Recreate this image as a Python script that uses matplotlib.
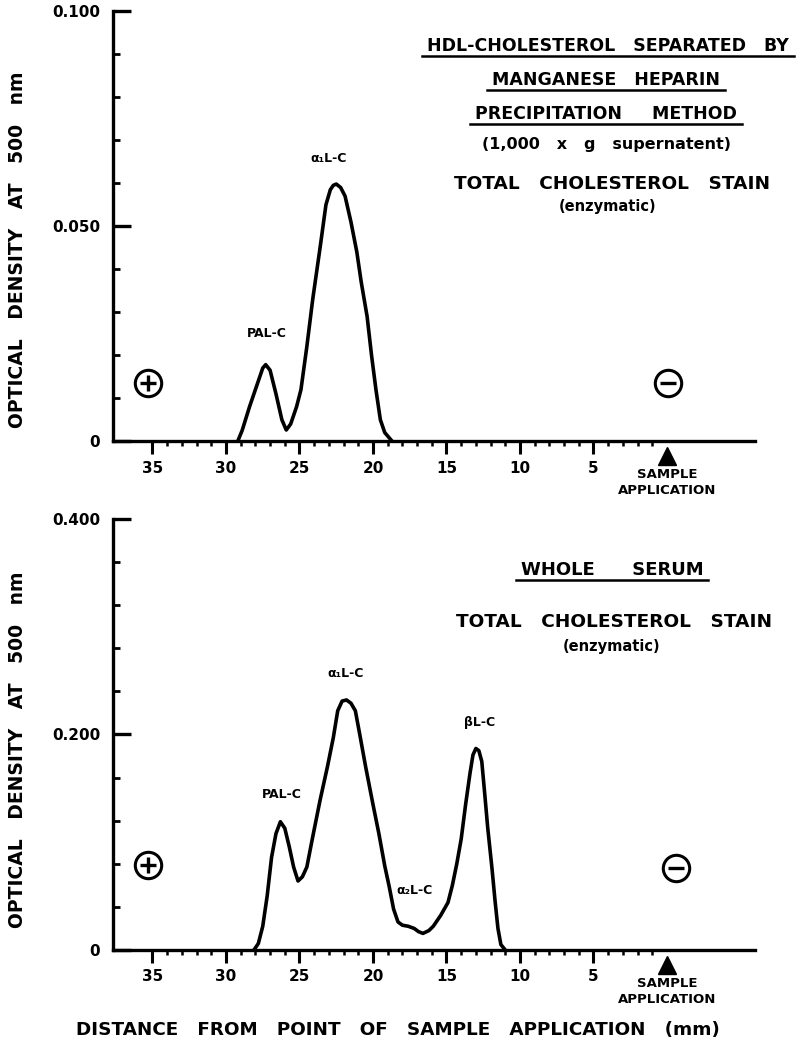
import matplotlib.pyplot as plt
from matplotlib.ticker import FixedLocator
from matplotlib.lines import Line2D
import matplotlib.transforms as mtransforms

plt.rcParams['font.family'] = ['DejaVu Sans']
plt.rcParams['font.weight'] = 'bold'

# densitometer scan, HDL fraction (Mn-heparin supernatant)
hdl_mm = [29.2, 28.9, 28.4, 27.9, 27.5, 27.3, 27.0, 26.6, 26.2, 25.9, 25.6, 25.2,
          24.9, 24.5, 24.1, 23.6, 23.2, 22.9, 22.7, 22.5, 22.2, 21.9, 21.5, 21.1,
          20.8, 20.4, 20.1, 19.8, 19.5, 19.2, 18.7]
hdl_od = [0.0, 0.0025, 0.008, 0.013, 0.017, 0.0178, 0.0165, 0.011, 0.005, 0.0026,
          0.004, 0.008, 0.012, 0.022, 0.033, 0.045, 0.055, 0.0585, 0.0595, 0.0598,
          0.059, 0.057, 0.051, 0.044, 0.037, 0.029, 0.020, 0.012, 0.005, 0.002, 0.0]

# densitometer scan, whole serum
serum_mm = [28.1, 27.8, 27.5, 27.2, 26.9, 26.6, 26.3, 26.0, 25.7, 25.4, 25.1, 24.8,
            24.5, 24.1, 23.6, 23.1, 22.7, 22.4, 22.1, 21.8, 21.5, 21.2, 20.9, 20.5,
            20.0, 19.6, 19.2, 18.9, 18.6, 18.3, 18.0, 17.6, 17.2, 16.9, 16.6, 16.2,
            15.9, 15.4, 14.9, 14.6, 14.3, 14.0, 13.7, 13.4, 13.2, 13.0, 12.8, 12.6,
            12.4, 12.2, 11.9, 11.7, 11.5, 11.3, 11.0]
serum_od = [0.0, 0.006, 0.022, 0.05, 0.086, 0.108, 0.119, 0.113, 0.096, 0.077, 0.064,
            0.068, 0.077, 0.105, 0.139, 0.17, 0.197, 0.222, 0.231, 0.232, 0.229, 0.222,
            0.2, 0.17, 0.135, 0.108, 0.078, 0.059, 0.038, 0.026, 0.023, 0.022, 0.020,
            0.017, 0.0154, 0.018, 0.022, 0.032, 0.044, 0.06, 0.08, 0.103, 0.135, 0.164,
            0.181, 0.187, 0.185, 0.175, 0.145, 0.114, 0.075, 0.046, 0.02, 0.005, 0.0]

major_mm = [35, 30, 25, 20, 15, 10, 5]
major_labels = ['35', '30', '25', '20', '15', '10', '5']
minor_mm = [m for m in range(1, 35) if m % 5 != 0]

top_yticks = [0, 0.050, 0.100]
top_ylabels = ['0', '0.050', '0.100']
top_yminor = [0.01, 0.02, 0.03, 0.04, 0.06, 0.07, 0.08, 0.09]
bot_yticks = [0, 0.200, 0.400]
bot_ylabels = ['0', '0.200', '0.400']
bot_yminor = [0.04, 0.08, 0.12, 0.16, 0.24, 0.28, 0.32, 0.36]

top_peaks = [('PAL-C', 27.25, 0.0251), ('α\u2081L-C', 23.0, 0.0658)]
bot_peaks = [('PAL-C', 26.2, 0.144), ('α\u2081L-C', 21.9, 0.257),
             ('βL-C', 12.75, 0.211), ('α\u2082L-C', 17.2, 0.0556)]

fig = plt.figure(figsize=(8, 10.58), dpi=100)
ax1 = fig.add_axes([0.141, 0.583, 0.803, 0.4064])
ax2 = fig.add_axes([0.141, 0.1021, 0.803, 0.4074])


def style_axis(ax, yticks, ylabels, yminor, ymax):
    ax.set_xlim(37.7, -6.0)
    ax.set_ylim(0, ymax)
    for s in ['top', 'right']:
        ax.spines[s].set_visible(False)
    for s in ['left', 'bottom']:
        ax.spines[s].set_linewidth(2.4)
    ax.xaxis.set_major_locator(FixedLocator(major_mm))
    ax.xaxis.set_minor_locator(FixedLocator(minor_mm))
    ax.set_xticklabels(major_labels)
    ax.yaxis.set_major_locator(FixedLocator(yticks))
    ax.yaxis.set_minor_locator(FixedLocator(yminor))
    ax.set_yticklabels(ylabels)
    ax.tick_params(axis='x', which='major', direction='out', length=9, width=2.2,
                   pad=5, labelsize=11)
    ax.tick_params(axis='x', which='minor', direction='out', length=3.5, width=1.8)
    ax.tick_params(axis='y', which='major', direction='in', length=13, width=2.4,
                   pad=9, labelsize=11)
    ax.tick_params(axis='y', which='minor', direction='in', length=5, width=2.0)
    for lab in ax.get_xticklabels() + ax.get_yticklabels():
        lab.set_fontweight('bold')

    # sample application marker below the axis at 0 mm
    trans = mtransforms.blended_transform_factory(ax.transData, ax.transAxes)
    ax.plot([0], [-0.034], marker='^', color='black', markersize=13,
            transform=trans, clip_on=False)
    ax.text(0, -0.062, 'SAMPLE\nAPPLICATION', transform=trans, ha='center',
            va='top', fontsize=9.5, fontweight='bold', linespacing=1.35)


def pole(ax, x, y, sign):
    ax.plot([x], [y], marker='o', markersize=19, markerfacecolor='white',
            markeredgecolor='black', markeredgewidth=2.2, clip_on=False)
    ax.plot([x], [y], marker='_' if sign == '-' else '+', markersize=11,
            markeredgewidth=2.4, color='black', clip_on=False)


style_axis(ax1, top_yticks, top_ylabels, top_yminor, 0.100)
style_axis(ax2, bot_yticks, bot_ylabels, bot_yminor, 0.400)

ax1.plot(hdl_mm, hdl_od, color='black', lw=2.6, solid_joinstyle='round',
         solid_capstyle='round')
ax2.plot(serum_mm, serum_od, color='black', lw=2.6, solid_joinstyle='round',
         solid_capstyle='round')

for name, x, y in top_peaks:
    ax1.text(x, y, name, ha='center', va='center', fontsize=9, fontweight='bold')
for name, x, y in bot_peaks:
    ax2.text(x, y, name, ha='center', va='center', fontsize=9, fontweight='bold')

pole(ax1, 35.3, 0.0135, '+')
pole(ax1, -0.1, 0.0135, '-')
pole(ax2, 35.3, 0.079, '+')
pole(ax2, -0.6, 0.076, '-')

# headings, underlined where the lettering is underlined
heads = [
    (608, 46, 'HDL-CHOLESTEROL   SEPARATED   BY', 12.5, True),
    (606, 80, 'MANGANESE   HEPARIN', 12.5, True),
    (606, 114, 'PRECIPITATION     METHOD', 12.5, True),
    (606, 145, '(1,000   x   g   supernatent)', 11.5, False),
    (612, 184, 'TOTAL   CHOLESTEROL   STAIN', 13.3, False),
    (608, 207, '(enzymatic)', 10.5, False),
    (612, 570, 'WHOLE      SERUM', 13, True),
    (614, 622, 'TOTAL   CHOLESTEROL   STAIN', 13.3, False),
    (612, 646, '(enzymatic)', 10.5, False),
]
W, H = 800, 1058
texts = []
for px, py, s, fs, under in heads:
    t = fig.text(px / W, 1 - py / H, s, ha='center', va='center',
                 fontsize=fs, fontweight='bold')
    texts.append((t, under))

for yc in (250, 750):
    fig.text(18 / W, 1 - yc / H, 'OPTICAL   DENSITY   AT   500   nm', rotation=90,
             ha='center', va='center', fontsize=13.5, fontweight='bold')

fig.text(398 / W, 1 - 1030 / H,
         'DISTANCE   FROM   POINT   OF   SAMPLE   APPLICATION   (mm)',
         ha='center', va='center', fontsize=13.2, fontweight='bold')

fig.canvas.draw()
renderer = fig.canvas.get_renderer()
for t, under in texts:
    if not under:
        continue
    bb = t.get_window_extent(renderer).transformed(fig.transFigure.inverted())
    y = bb.y0 - 0.0005
    fig.add_artist(Line2D([bb.x0 - 0.006, bb.x1 + 0.006], [y, y], color='black',
                          lw=1.8, transform=fig.transFigure))

fig.savefig('out.png', dpi=100, facecolor='white')
